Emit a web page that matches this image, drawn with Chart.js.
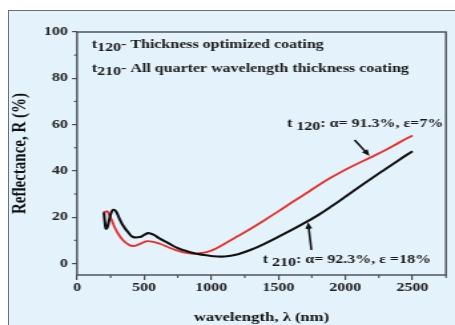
<!DOCTYPE html>
<html><head><meta charset="utf-8">
<script src="https://cdn.jsdelivr.net/npm/chart.js@4/dist/chart.umd.min.js"></script>
<style>
html,body{margin:0;padding:0;background:#fff;width:455px;height:325px;overflow:hidden;}
#frame{position:absolute;left:8px;top:10px;width:460px;height:330px;border:1.5px solid #6a6f73;background:#e3f2fb;box-sizing:border-box;}
#wrap{position:absolute;left:0;top:0;width:342px;height:325px;transform:scaleX(1.3304);transform-origin:0 0;}
</style></head><body>
<div id="frame"></div>
<div id="wrap"><canvas id="c"></canvas></div>
<script>
// t120 (thickness optimized) - red
const redWavelength = [195,210,225,240,260,280,310,343,380,418,460,518,570,617,680,742,800,866,930,1000,1100,1200,1300,1400,1500,1600,1700,1800,1900,2000,2100,2184,2300,2400,2500];
const redReflectance = [22.2,22.3,22.5,21,18.5,15.7,12.5,10,8.3,7.5,8.2,9.6,9.3,8.5,7,5.6,4.7,4.2,4.5,5.5,8.5,11.8,15.2,18.8,22.5,26.3,30,33.8,37.3,40.5,43.4,45.7,49.0,52.2,55.3];
// t210 (all quarter wavelength) - black
const blackWavelength = [200,207,215,225,240,255,270,290,315,343,380,418,468,500,530,570,617,680,742,800,866,930,1000,1100,1200,1300,1400,1500,1600,1700,1800,1900,2000,2100,2200,2300,2400,2500];
const blackReflectance = [22,18,15,15.5,19,22,23.2,22.5,19.5,16.4,13.5,11.4,11.4,12.3,13.1,12.4,10.7,8.8,6.8,5.6,4.5,3.8,3.2,3.0,4.0,6.0,8.6,11.5,14.5,17.6,21.0,24.8,28.8,32.9,36.9,40.8,44.7,48.5];
const xMajorTicks = [0,500,1000,1500,2000,2500];
const xMinorTicks = [250,750,1250,1750,2250,2750];
const yMajorTicks = [0,20,40,60,80,100];
const yMinorTicks = [10,30,50,70,90];
const legendLines = [["t","120","- Thickness optimized coating"],["t","210","- All quarter wavelength thickness coating"]];
const redNote = ["t ","120",": α= 91.3%, ε=7%"];
const blackNote = ["t ","210",": α= 92.3%, ε =18%"];

const FONT = '"Liberation Serif","Times New Roman",serif';
const toPts = (xs, ys) => xs.map((x,i)=>({x:x,y:ys[i]}));

function drawSub(ctx, x, y, parts, size){
  ctx.font = 'bold '+size+'px '+FONT;
  ctx.fillText(parts[0], x, y);
  x += ctx.measureText(parts[0]).width;
  ctx.fillText(parts[1], x, y+3);
  x += ctx.measureText(parts[1]).width;
  ctx.fillText(parts[2], x, y);
}
function arrow(ctx, x1,y1,x2,y2){
  const a = Math.atan2(y2-y1,x2-x1), L=7, w=0.38;
  ctx.beginPath(); ctx.moveTo(x1,y1); ctx.lineTo(x2-L*0.6*Math.cos(a),y2-L*0.6*Math.sin(a)); ctx.stroke();
  ctx.beginPath(); ctx.moveTo(x2,y2);
  ctx.lineTo(x2-L*Math.cos(a-w), y2-L*Math.sin(a-w));
  ctx.lineTo(x2-L*Math.cos(a+w), y2-L*Math.sin(a+w));
  ctx.closePath(); ctx.fill();
}
const deco = {
  id:'deco',
  afterDraw(chart){
    const {ctx, chartArea:a, scales:{x,y}} = chart;
    ctx.save();
    ctx.strokeStyle='#454a50'; ctx.lineWidth=1.4;
    ctx.strokeRect(a.left,a.top,a.right-a.left,a.bottom-a.top);
    ctx.lineWidth=1.1;
    xMinorTicks.forEach(v=>{const p=x.getPixelForValue(v); if(p<=a.right+0.5){ctx.beginPath();ctx.moveTo(p,a.bottom);ctx.lineTo(p,a.bottom+3);ctx.stroke();}});
    yMinorTicks.forEach(v=>{const p=y.getPixelForValue(v); ctx.beginPath();ctx.moveTo(a.left,p);ctx.lineTo(a.left-2.3,p);ctx.stroke();});
    ctx.fillStyle='#1a1a1a'; ctx.textBaseline='alphabetic';
    drawSub(ctx, x.getPixelForValue(110), y.getPixelForValue(93.3), legendLines[0], 12);
    drawSub(ctx, x.getPixelForValue(110), y.getPixelForValue(82.6), legendLines[1], 12);
    drawSub(ctx, x.getPixelForValue(1565), y.getPixelForValue(58.8), redNote, 12);
    drawSub(ctx, x.getPixelForValue(1384), y.getPixelForValue(0.4), blackNote, 12);
    ctx.strokeStyle='#111'; ctx.fillStyle='#111'; ctx.lineWidth=1.6;
    arrow(ctx, x.getPixelForValue(2069), y.getPixelForValue(53.3), x.getPixelForValue(2181), y.getPixelForValue(46.4));
    arrow(ctx, x.getPixelForValue(1747), y.getPixelForValue(5.8), x.getPixelForValue(1722), y.getPixelForValue(17.8));
    ctx.restore();
  }
};
new Chart(document.getElementById('c'), {
  type:'scatter',
  data:{datasets:[
    {data:toPts(blackWavelength,blackReflectance), showLine:true, borderColor:'#111111', borderWidth:2.1, pointRadius:0, tension:0.4},
    {data:toPts(redWavelength,redReflectance), showLine:true, borderColor:'#e8302c', borderWidth:1.9, pointRadius:0, tension:0.4}
  ]},
  options:{
    responsive:true, maintainAspectRatio:false, animation:false,
    layout:{padding:{top:32,right:6.8,left:0,bottom:0}},
    plugins:{legend:{display:false}, tooltip:{enabled:false}},
    scales:{
      x:{type:'linear', min:0, max:2750,
        afterBuildTicks(s){ s.ticks = xMajorTicks.map(v=>({value:v})); },
        afterFit(s){ s.height = 50; },
        grid:{display:true, drawOnChartArea:false, drawTicks:true, tickLength:5, color:'#454a50', lineWidth:1.2},
        border:{display:false},
        ticks:{color:'#222', padding:1, maxRotation:0, font:{family:FONT, weight:'bold', size:12}, callback:v=>String(v)},
        title:{display:true, text:'wavelength, λ (nm)', color:'#111', padding:{top:10,bottom:0}, font:{family:FONT, weight:'bold', size:12.5}}
      },
      y:{type:'linear', min:-5, max:100,
        afterBuildTicks(s){ s.ticks = yMajorTicks.map(v=>({value:v})); },
        afterFit(s){ s.width = 57.9; },
        grid:{display:true, drawOnChartArea:false, drawTicks:true, tickLength:3.8, color:'#454a50', lineWidth:1.2},
        border:{display:false},
        ticks:{color:'#222', padding:3, font:{family:FONT, weight:'bold', size:12}, callback:v=>String(v)},
        title:{display:true, text:'Reflectance, R (%)', color:'#111', padding:{top:6,bottom:2}, font:{family:FONT, weight:'bold', size:15}}
      }
    }
  },
  plugins:[deco]
});
</script></body></html>
